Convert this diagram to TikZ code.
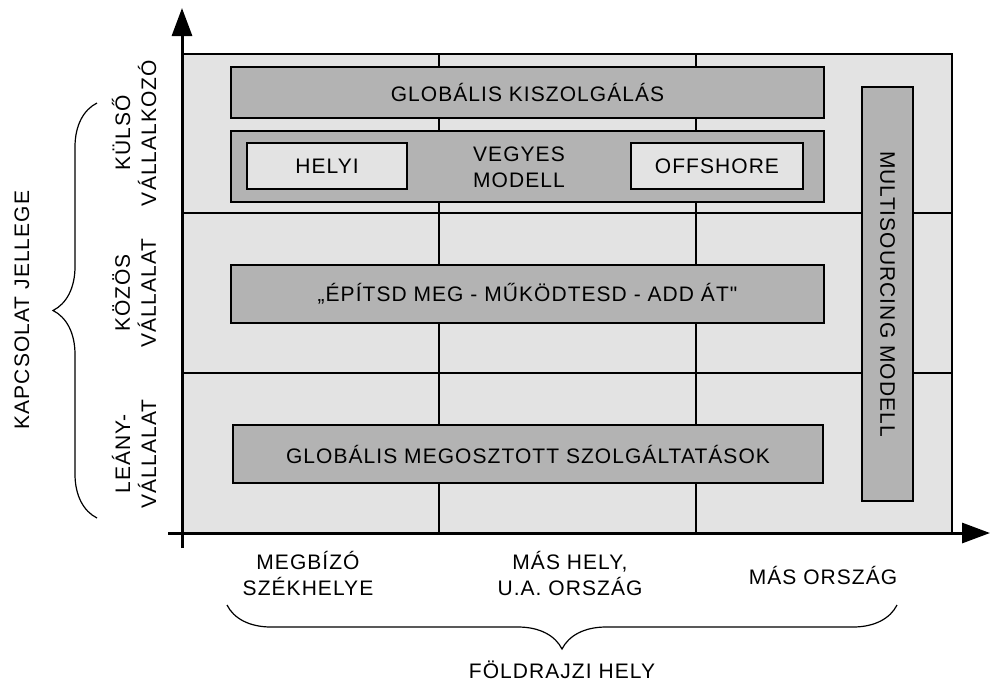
\documentclass[tikz,border=0pt]{standalone}
\usepackage{fontspec}
\setmainfont{Liberation Sans}[LetterSpace=5, Ligatures=TeXOff]
\usetikzlibrary{arrows.meta, decorations.pathreplacing, positioning}

\definecolor{cellgray}{RGB}{227,227,227}
\definecolor{bargray}{RGB}{179,179,179}

\tikzset{
  bar/.style={draw, line width=1pt, fill=bargray, inner sep=0pt, align=center},
  inbox/.style={draw, line width=1pt, fill=cellgray, inner sep=0pt},
  axis/.style={line width=1.5pt, -{Triangle[length=14pt,width=10pt]}},
  gridline/.style={line width=0.75pt},
  brc/.style={decorate, decoration={brace, amplitude=22pt}, line width=0.6pt},
  lbl/.style={align=center, inner sep=0pt},
}

\begin{document}
\begin{tikzpicture}[x=0.5pt, y=-0.5pt, font=\fontsize{10.5}{13}\selectfont]
  \useasboundingbox (0,0) rectangle (991,682);

  % cells
  \draw[gridline, fill=cellgray] (182,54) rectangle (952,533);
  \draw[gridline] (439,54) -- (439,533);
  \draw[gridline] (696,54) -- (696,533);
  \draw[gridline] (182,213) -- (952,213);
  \draw[gridline] (182,373) -- (952,373);

  % axes
  \coordinate (o) at (182,533);
  \coordinate (ytop) at (182,8);
  \coordinate (ybot) at (182,548);
  \coordinate (xleft) at (168,533);
  \coordinate (xright) at (990,533);
  \draw[axis] (ybot) -- (ytop);
  \draw[axis] (xleft) -- (xright);

  % bars
  \node[bar, minimum width=296.5pt, minimum height=25.5pt] (kiszolg) at (527.5,92.5) {GLOBÁLIS KISZOLGÁLÁS};
  \node[bar, minimum width=296.5pt, minimum height=35.5pt] (vegyes) at (527.5,166.5) {};
  \node[inbox, minimum width=80pt, minimum height=23pt] (helyi) at (327,166) {HELYI};
  \node[inbox, minimum width=86pt, minimum height=23pt] (offshore) at (717,166) {OFFSHORE};
  \node[lbl] (vegyeslbl) at (519,167) {VEGYES\\MODELL};
  \node[bar, minimum width=296.5pt, minimum height=29pt] (epitsd) at (527.5,294) {„ÉPÍTSD MEG - MŰKÖDTESD - ADD ÁT"};
  \node[bar, minimum width=295pt, minimum height=29pt] (megoszt) at (528,454) {GLOBÁLIS MEGOSZTOTT SZOLGÁLTATÁSOK};
  \node[bar, rotate=-90, minimum width=207pt, minimum height=25.5pt] (multi) at (887.5,294) {MULTISOURCING MODELL};

  % row labels
  \node[lbl, rotate=90] (kulso) at (134,133) {KÜLSŐ\\VÁLLALKOZÓ};
  \node[lbl, rotate=90] (kozos) at (134,293) {KÖZÖS\\VÁLLALAT};
  \node[lbl, rotate=90] (leany) at (134,454) {LEÁNY-\\VÁLLALAT};
  \coordinate (lb1) at (97,518);
  \coordinate (lb2) at (97,103);
  \draw[brc] (lb1) -- (lb2);
  \node[lbl, rotate=90] (kapcsolat) at (22,310) {KAPCSOLAT JELLEGE};

  % column labels
  \node[lbl] (megbizo) at (308,573) {MEGBÍZÓ\\SZÉKHELYE};
  \node[lbl] (mashely) at (570,573) {MÁS HELY,\\U.A. ORSZÁG};
  \node[lbl] (masorszag) at (823,575) {MÁS ORSZÁG};
  \coordinate (bb1) at (897,605);
  \coordinate (bb2) at (227,605);
  \draw[brc] (bb1) -- (bb2);
  \node[lbl] (foldrajzi) at (562,670) {FÖLDRAJZI HELY};
\end{tikzpicture}
\end{document}
